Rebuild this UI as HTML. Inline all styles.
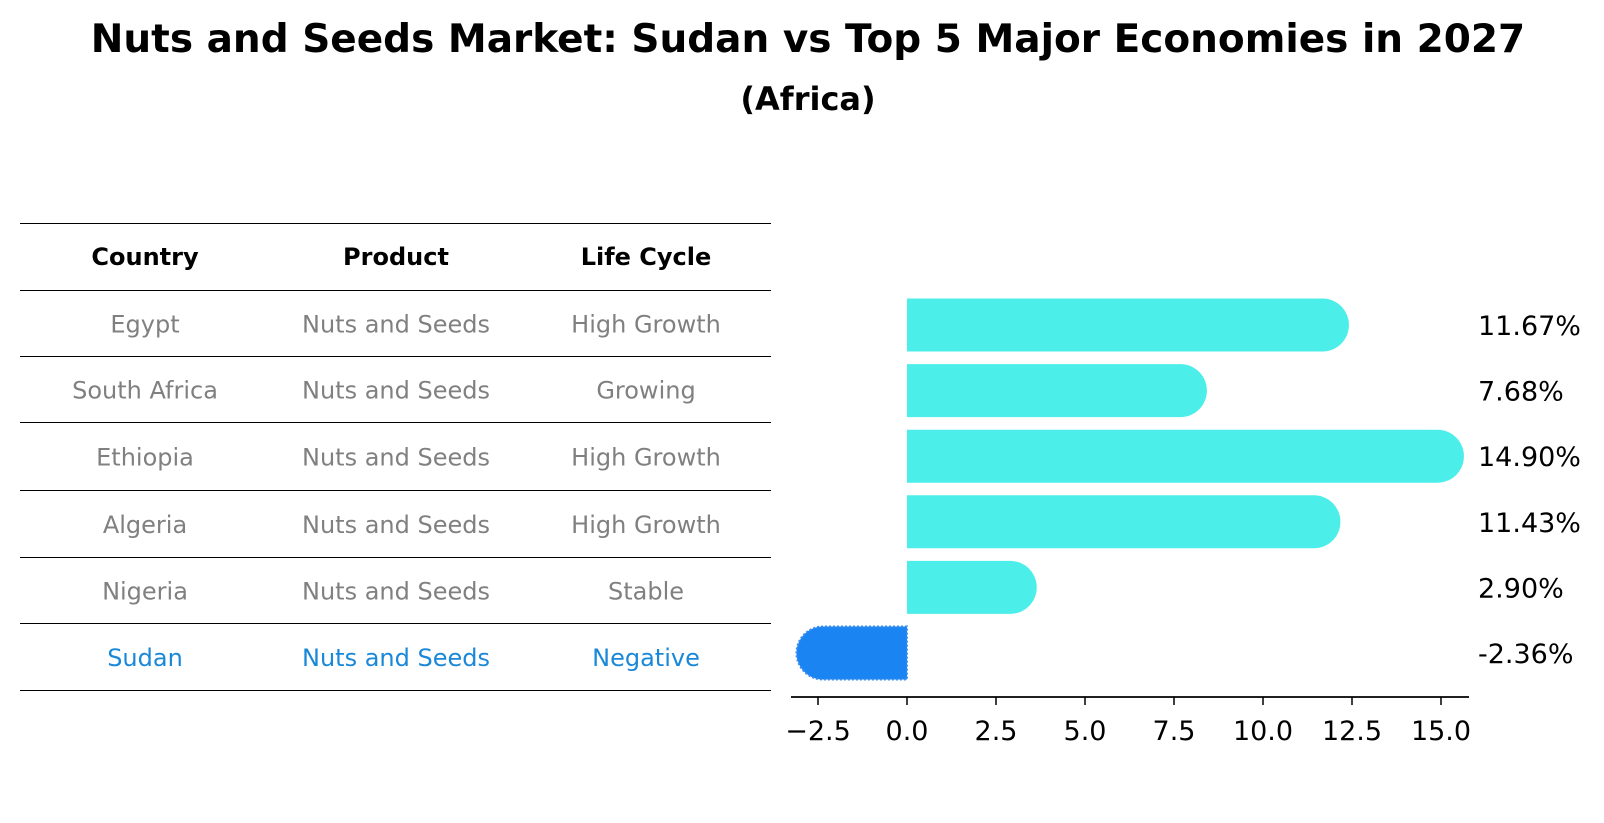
<!DOCTYPE html>
<html><head><meta charset="utf-8"><style>
body{margin:0;background:#fff;}
svg{display:block;font-family:"DejaVu Sans","Liberation Sans",sans-serif;}
</style></head><body>
<svg id="chart" width="1604" height="823" viewBox="0 0 1604 823">
<text x="808" y="52" text-anchor="middle" font-size="39" font-weight="bold">Nuts and Seeds Market: Sudan vs Top 5 Major Economies in 2027</text>
<text x="808" y="110" text-anchor="middle" font-size="32" font-weight="bold">(Africa)</text>
<g id="table"></g>
<g id="bars"></g>
</svg>
<script>
const countries = ["Egypt","South Africa","Ethiopia","Algeria","Nigeria","Sudan"];
const products = ["Nuts and Seeds","Nuts and Seeds","Nuts and Seeds","Nuts and Seeds","Nuts and Seeds","Nuts and Seeds"];
const lifeCycles = ["High Growth","Growing","High Growth","High Growth","Stable","Negative"];
const growth = [11.67, 7.68, 14.90, 11.43, 2.90, -2.36];
const xTicks = [-2.5, 0, 2.5, 5, 7.5, 10, 12.5, 15];
const NS = "http://www.w3.org/2000/svg";
function mk(tag, attrs, parent){const e=document.createElementNS(NS,tag);for(const k in attrs)e.setAttribute(k,attrs[k]);parent.appendChild(e);return e;}
const tbl=document.getElementById('table');
const lineYs=[223.5,290.5,356.5,422.5,490.5,557.5,623.5,690.5];
lineYs.forEach((y,i)=>{const l=mk('line',{x1:20,x2:771,y1:y,y2:y,stroke:'#000','stroke-width':1},tbl);

});
const colX=[145,396,646];
["Country","Product","Life Cycle"].forEach((h,i)=>{const t=mk('text',{x:colX[i],y:265,'text-anchor':'middle','font-size':24,'font-weight':'bold'},tbl);t.textContent=h;

});
countries.forEach((c,r)=>{const y=(lineYs[r+1]+lineYs[r+2])/2+9;const col=c==="Sudan"?'#1a88d8':'#808080';
[c,products[r],lifeCycles[r]].forEach((v,i)=>{const t=mk('text',{x:colX[i],y:y,'text-anchor':'middle','font-size':24,fill:col},tbl);t.textContent=v;

});});
const g=document.getElementById('bars');
const x0=907, pxPer=35.6;
const xs=v=>x0+v*pxPer;
const ys=i=>325+i*65.6;
const bh=53, r=26.5;
growth.forEach((v,i)=>{
  const yc=ys(i), xv=xs(v), neg=v<0;
  const col=neg?'#1a84f2':'#4ceeea';
  let d;
  if(!neg){d=`M${x0},${yc-bh/2} L${xv},${yc-bh/2} A${r},${r} 0 0 1 ${xv},${yc+bh/2} L${x0},${yc+bh/2} Z`;}
  else{d=`M${x0},${yc-bh/2} L${xv},${yc-bh/2} A${r},${r} 0 0 0 ${xv},${yc+bh/2} L${x0},${yc+bh/2} Z`;}
  const p=mk('path',{d:d,fill:col},g);
  if(neg){p.setAttribute('stroke','#3a8ef0');p.setAttribute('stroke-dasharray','2,2');p.setAttribute('stroke-width','2');}
  
  
  const t=mk('text',{x:1478,y:yc+10,'font-size':27},g);t.textContent=v.toFixed(2)+'%';
  
  
});
const ax=mk('line',{x1:791,x2:1469,y1:697,y2:697,stroke:'#000','stroke-width':1.8},g);


xTicks.forEach(v=>{const x=xs(v);mk('line',{x1:x,x2:x,y1:697,y2:705,stroke:'#000','stroke-width':1.5},g);
const t=mk('text',{x:x,y:740,'text-anchor':'middle','font-size':27},g);t.textContent=(v<0?'\u2212':'')+Math.abs(v).toFixed(1);

});
</script>
</body></html>
